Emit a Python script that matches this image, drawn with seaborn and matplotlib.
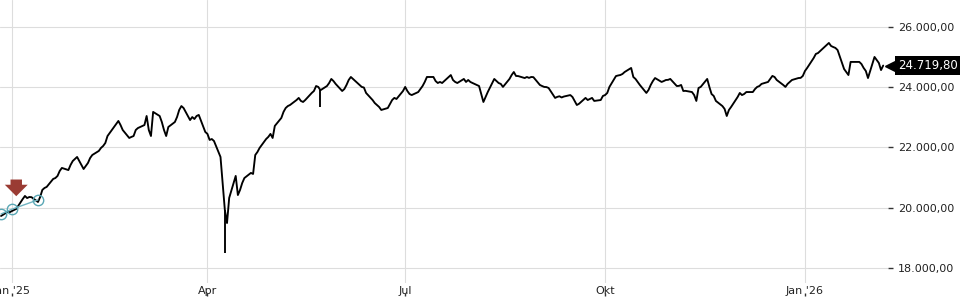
import matplotlib
matplotlib.use("Agg")
import matplotlib.pyplot as plt
from matplotlib.ticker import FuncFormatter
import seaborn as sns
import pandas as pd

# ---------------- data ----------------
start_date = "2024-12-27"
prices = [
    19725,
    19860, 19850, 19890, 19925, 19960,
    20290, 20390, 20320, 20355, 20350,
    20190, 20355, 20590, 20655, 20690,
    20955, 20985, 21055, 21220, 21320,
    21250, 21420, 21550, 21620, 21685,
    21285, 21385, 21485, 21650, 21750,
    21885, 21985, 22050, 22150, 22380,
    22680, 22780, 22880, 22745, 22580,
    22315, 22350, 22380, 22580, 22645,
    22745, 23045, 22580, 22380, 23180,
    23045, 22845, 22580, 22380, 22680,
    22845, 23010, 23245, 23375, 23310,
    22910, 23010, 22945, 23045, 23080,
    22515, 22450, 22250, 22280, 22215,
    21685, 20820, 19925, 19490, 20325,
    21055, 20420, 20590, 20820, 20985,
    21155, 21120, 21750, 21850, 21985,
    22280, 22350, 22450, 22315, 22715,
    22980, 23180, 23310, 23375, 23410,
    23575, 23645, 23545, 23510, 23575,
    23810, 23875, 24040, 24010, 23900,
    24040, 24140, 24275, 24205, 24110,
    23875, 23940, 24075, 24240, 24340,
    24140, 24075, 24010, 23990, 23810,
    23575, 23475, 23410, 23345, 23245,
    23310, 23445, 23575, 23645, 23610,
    23875, 24010, 23875, 23775, 23740,
    23840, 23940, 24040, 24175, 24340,
    24340, 24205, 24140, 24175, 24140,
    24340, 24405, 24240, 24175, 24140,
    24275, 24175, 24240, 24175, 24140,
    24040, 23775, 23510, 23675, 23840,
    24275, 24205, 24140, 24110, 24010,
    24275, 24405, 24505, 24375, 24370,
    24305, 24340, 24310, 24340, 24335,
    24075, 24040, 24010, 24005, 23975,
    23645, 23680, 23700, 23660, 23690,
    23740, 23675, 23545, 23410, 23450,
    23645, 23575, 23610, 23645, 23545,
    23575, 23710, 23740, 23810, 24010,
    24370, 24390, 24405, 24440, 24505,
    24640, 24340, 24275, 24175, 24075,
    23810, 23910, 24075, 24205, 24305,
    24175, 24205, 24240, 24245, 24275,
    24040, 24045, 24075, 23875, 23880,
    23840, 23740, 23545, 23975, 24010,
    24275, 24010, 23775, 23710, 23545,
    23375, 23280, 23045, 23245, 23345,
    23675, 23810, 23740, 23775, 23840,
    23840, 23940, 24010, 24040, 24110,
    24175, 24275, 24375, 24340, 24240,
    24075, 24010, 24110, 24175, 24240,
    24305, 24310, 24375, 24540, 24640,
    24970, 25105, 25135, 25205, 25270,
    25470, 25370, 25335, 25305, 25235,
    24605, 24505, 24405, 24840, 24840,
    24840, 24770, 24640, 24540, 24305,
    25005, 24905, 24805, 24570, 24719.80,
]
dates = pd.bdate_range(start_date, periods=len(prices))

# intraday spikes
spike_dates = ["2025-04-09", "2025-05-23"]
spike_lows = [18500, 23340]
spike_highs = [19925, 23900]

# trade markers (teal circles)
marker_dates = ["2024-12-27", "2025-01-01", "2025-01-13"]
marker_prices = [19790, 19950, 20260]

# signal arrow
arrow_dates = ["2025-01-03"]
arrow_prices = [20290]

tick_dates = ["2025-01-01", "2025-04-01", "2025-07-01", "2025-10-01", "2026-01-01"]
tick_labels = ["Jan '25", "Apr", "Jul", "Okt", "Jan '26"]
y_ticks = [18000, 20000, 22000, 24000, 26000]
x_range = ["2024-12-26 12:30", "2026-02-08 05:00"]
y_range = [17500, 26896]

# ---------------- plotting ----------------
sns.set_style("white")
plt.rcParams["font.family"] = ["DejaVu Sans"]

fig = plt.figure(figsize=(9.6, 3.0), dpi=100)
ax = fig.add_axes([0.0, 17 / 300, 888 / 960, 283 / 300])

df = pd.DataFrame({"date": dates, "price": prices})
sns.lineplot(data=df, x="date", y="price", ax=ax, color="black", linewidth=1.35)
ax.vlines(pd.to_datetime(spike_dates), spike_lows, spike_highs, color="black", linewidth=1.35)

# teal trade markers
ax.plot(pd.to_datetime(marker_dates), marker_prices, color="#6fb3c0", linewidth=1.0,
        marker="o", markersize=7.5, markerfacecolor="none", markeredgecolor="#5aa7b5",
        markeredgewidth=1.0, zorder=4)

# red signal arrow
for d, p in zip(pd.to_datetime(arrow_dates), arrow_prices):
    ax.annotate("", xy=(d, p), xytext=(0, 16), textcoords="offset points",
                arrowprops=dict(arrowstyle="simple,head_length=0.75,head_width=1.5,tail_width=0.75",
                                fc="#9a3b33", ec="none", mutation_scale=11), zorder=5)

ax.set_xlim(pd.to_datetime(x_range[0]), pd.to_datetime(x_range[1]))
ax.set_ylim(*y_range)

ax.set_xticks(pd.to_datetime(tick_dates))
ax.set_xticklabels(tick_labels)
ax.set_yticks(y_ticks)


def de_fmt(v, pos=None):
    s = f"{v:,.2f}"
    return s.replace(",", "X").replace(".", ",").replace("X", ".")


ax.yaxis.set_major_formatter(FuncFormatter(de_fmt))
ax.yaxis.tick_right()
ax.tick_params(axis="y", length=3.6, width=1, color="#333333", pad=3.5,
               labelsize=8, labelcolor="#222222")
ax.tick_params(axis="x", length=0, pad=2, labelsize=8, labelcolor="#222222")
ax.grid(True, color="#dddddd", linewidth=0.8)
ax.set_axisbelow(True)
for s in ax.spines.values():
    s.set_visible(False)
ax.set_xlabel("")
ax.set_ylabel("")

# small tick marks below the date labels
sec = ax.secondary_xaxis(-0.035)
sec.set_xticks(pd.to_datetime(tick_dates))
sec.tick_params(axis="x", length=2.5, width=1, color="#333333", labelbottom=False)
sec.spines["bottom"].set_visible(False)

# last-price label
last_price = prices[-1]
trans = ax.get_yaxis_transform()
ax.plot([1.0 + 5 / 888], [last_price], marker="<", markersize=12, color="black",
        transform=trans, clip_on=False, zorder=6)
ax.text(1.0 + 10 / 888, last_price, de_fmt(last_price), transform=trans, ha="left",
        va="center", color="white", fontsize=8.5, clip_on=False, zorder=7,
        bbox=dict(boxstyle="square,pad=0.25", fc="black", ec="none"))

fig.savefig("out.png", dpi=100)
